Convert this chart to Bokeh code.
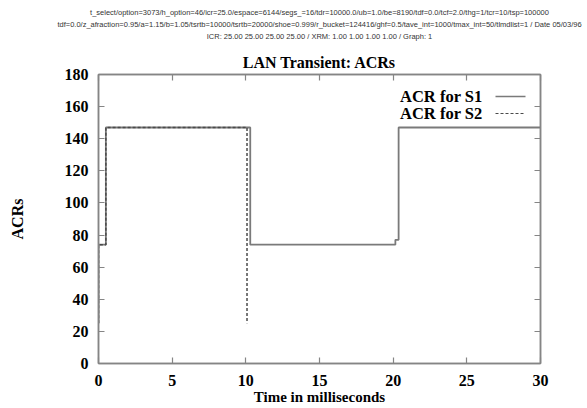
from bokeh.plotting import figure
from bokeh.models import Label, LinearAxis, FixedTicker, Range1d, Title
from bokeh.embed import file_html
from bokeh.resources import INLINE

# ACR step traces for the two sources (time in ms, ACR value)
s1_time = [0, 0, 0.5, 0.5, 10.3, 10.3, 20.15, 20.15, 20.37, 20.37, 30]
s1_acr = [25, 74, 74, 147, 147, 74, 74, 77, 77, 147, 147]
s2_time = [0, 0, 0.5, 0.5, 10.08, 10.08]
s2_acr = [25, 74, 74, 147, 147, 25]

x_ticks = [0, 5, 10, 15, 20, 25, 30]
y_ticks = [0, 20, 40, 60, 80, 100, 120, 140, 160, 180]

legend_labels = ["ACR for S1", "ACR for S2"]

header_lines = [
    "t_select/option=3073/h_option=46/icr=25.0/espace=6144/segs_=16/tdr=10000.0/ub=1.0/be=8190/tdf=0.0/tcf=2.0/thg=1/tcr=10/tsp=100000",
    "tdf=0.0/z_afraction=0.95/a=1.15/b=1.05/tsrtb=10000/tsrtb=20000/shoe=0.999/r_bucket=124416/ghf=0.5/tave_int=1000/tmax_int=50/tlmdlist=1 / Date 05/03/96",
    "ICR: 25.00 25.00 25.00 25.00 / XRM: 1.00 1.00 1.00 1.00 / Graph: 1",
]

W, H = 587, 408
LEFT, RIGHT, TOP, BOTTOM = 98, 47, 74, 45
X0, X1 = 0, 30
Y0, Y1 = 0, 180
FRAME_W = W - LEFT - RIGHT
FRAME_H = H - TOP - BOTTOM

SERIF = "Liberation Serif"
AXIS_GRAY = "#858585"


def sx(px):
    """Canvas pixel column -> data x."""
    return X0 + (px - LEFT) / FRAME_W * (X1 - X0)


def sy(py):
    """Canvas pixel row (from top) -> data y."""
    return Y0 + (H - BOTTOM - py) / FRAME_H * (Y1 - Y0)


p = figure(
    width=W, height=H,
    x_range=Range1d(X0, X1), y_range=Range1d(Y0, Y1),
    output_backend="svg", toolbar_location=None, title_location=None,
    min_border_left=LEFT, min_border_right=RIGHT,
    min_border_top=TOP, min_border_bottom=BOTTOM,
)
p.background_fill_color = "white"
p.border_fill_color = "white"
p.grid.visible = False
p.outline_line_color = AXIS_GRAY
p.outline_line_width = 1.5

# mirrored tick axes on the top and right edges
p.add_layout(LinearAxis(), "above")
p.add_layout(LinearAxis(), "right")

for ax in p.xaxis:
    ax.ticker = FixedTicker(ticks=x_ticks)
for ax in p.yaxis:
    ax.ticker = FixedTicker(ticks=y_ticks)

for ax in p.axis:
    ax.axis_line_color = AXIS_GRAY
    ax.axis_line_width = 1.5
    ax.major_tick_line_color = AXIS_GRAY
    ax.major_tick_line_width = 1.2
    ax.major_tick_in = 6
    ax.major_tick_out = 0
    ax.minor_tick_line_color = None
    ax.major_label_text_font = SERIF
    ax.major_label_text_font_style = "bold"
    ax.major_label_text_font_size = "16px"
    ax.major_label_text_color = "black"
    ax.axis_label_text_font = SERIF
    ax.axis_label_text_font_style = "bold"
    ax.axis_label_text_color = "black"

xb = p.below[0]
xb.major_label_standoff = 11
xb.axis_label = "Time in milliseconds"
xb.axis_label_text_font_size = "15px"
xb.axis_label_standoff = 0

yl = p.left[0]
yl.major_label_standoff = 10
yl.axis_label = "ACRs"
yl.axis_label_text_font_size = "16px"
yl.axis_label_standoff = 36

for ax in p.above + p.right:
    ax.major_label_text_font_size = "0px"
    ax.major_label_text_alpha = 0
    ax.major_label_standoff = 0

# title and run-parameter header, stacked upward from the frame
p.add_layout(Title(text="LAN Transient: ACRs", align="center", text_font=SERIF,
                   text_font_style="bold", text_font_size="16px",
                   text_color="black", standoff=7), "above")
# blank gap between the title and the header block
p.add_layout(Title(text=" ", align="center", text_font_size="4.5px",
                   standoff=0), "above")
for line in reversed(header_lines):
    p.add_layout(Title(text=line, align="center", text_font="Liberation Sans",
                       text_font_style="normal", text_font_size="7.5px",
                       text_color="#333333", standoff=1), "above")

# traces
p.line(s1_time, s1_acr, line_color="#7a7a7a", line_width=1.8)
p.line(s2_time, s2_acr, line_color="#4a4a4a", line_width=1.5, line_dash="3 2")

# legend: text on the left, line sample on the right
legend_rows = [96, 113]
legend_styles = [dict(line_color="#7a7a7a", line_width=1.5),
                 dict(line_color="#4a4a4a", line_width=1.2, line_dash="3 2")]
for text, row, style in zip(legend_labels, legend_rows, legend_styles):
    p.add_layout(Label(x=sx(482), y=sy(row), text=text, text_align="right",
                       text_baseline="middle", text_font=SERIF,
                       text_font_style="bold", text_font_size="16.5px",
                       text_color="black"))
    p.segment(x0=[sx(495)], y0=[sy(row)], x1=[sx(525)], y1=[sy(row)], **style)

open("out.html", "w").write(file_html(p, INLINE))
